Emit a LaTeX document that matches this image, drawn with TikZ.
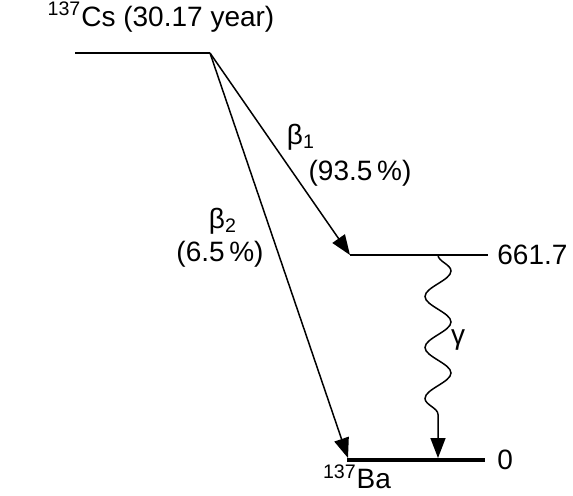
\documentclass[tikz,border=0pt]{standalone}
\usepackage{fontspec}
\setmainfont{Liberation Sans}
\usetikzlibrary{arrows.meta,positioning,decorations.pathmorphing}

\begin{document}
\begin{tikzpicture}[
  x=0.5pt, y=-0.5pt,
  font=\fontsize{14}{16}\selectfont,
  level/.style={line width=0.7pt},
  ground/.style={line width=1.8pt},
  decay/.style={-{Triangle[length=10pt,width=7.5pt]},line width=0.75pt},
  gammaray/.style={decay,decorate,
                   decoration={snake,segment length=25.5pt,amplitude=6.5pt,post length=12.5pt}},
  lbl/.style={inner sep=0pt}
]
\useasboundingbox (0,0) rectangle (573,495);
% levels
\coordinate (csL) at (75,53);
\coordinate (csR) at (210,53);
\coordinate (exL) at (350,255);
\coordinate (exR) at (488,255);
\coordinate (gsL) at (347,460);
\coordinate (gsR) at (485,460);
\coordinate (b2end) at (348,458);
\coordinate (gtop) at (438,255);
\coordinate (gbot) at (438,458);
\draw[level] (csL) -- (csR);
\draw[level] (exL) -- (exR);
\draw[ground] (gsL) -- (gsR);
% transitions
\draw[decay] (csR) -- (exL);
\draw[decay] (csR) -- (b2end);
\draw[gammaray] (gtop) -- (gbot);
% labels
\node[lbl] (cs) at (161,17) {\textsuperscript{137}Cs (30.17 year)};
\node[lbl,right=4.5pt of exR] (e1) {661.7};
\node[lbl,right=6pt of gsR] (e0) {0};
\node[lbl] (ba) at (357,477) {\textsuperscript{137}Ba};
\node[lbl] (b1) at (301,137) {β\textsubscript{1}};
\node[lbl] (b1pct) at (360,173) {(93.5\,\%)};
\node[lbl] (b2) at (223,221) {β\textsubscript{2}};
\node[lbl] (b2pct) at (220,254) {(6.5\,\%)};
\node[lbl] (g) at (458,340) {γ};
\end{tikzpicture}
\end{document}
